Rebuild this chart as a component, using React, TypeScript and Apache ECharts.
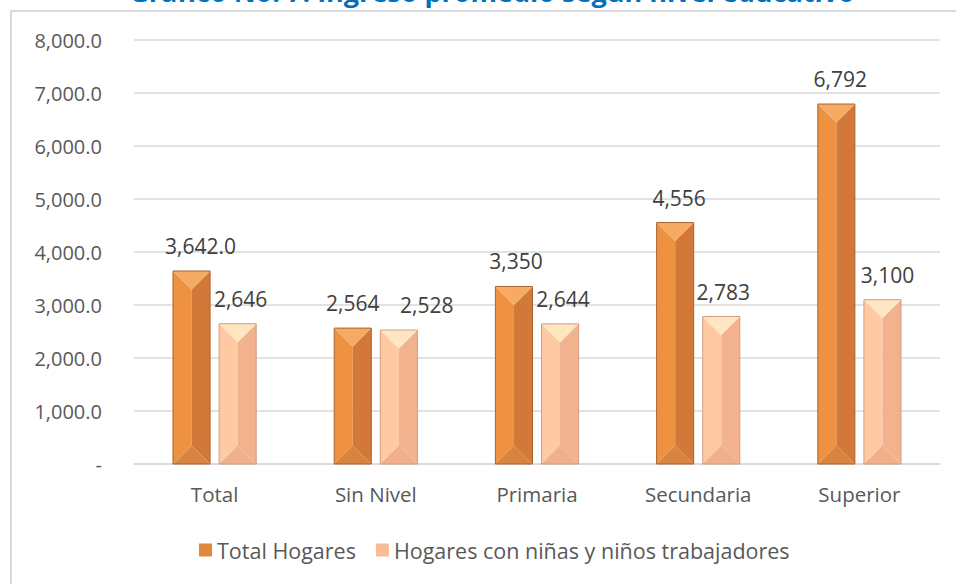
import React, { useEffect, useRef } from "react";
import * as echarts from "echarts";

const titleText = "Gráfico No. 7: Ingreso promedio según nivel educativo";
const categories = ["Total", "Sin Nivel", "Primaria", "Secundaria", "Superior"];
const seriesNames = ["Total Hogares", "Hogares con niñas y niños trabajadores"];
const totalHogares = [3642, 2564, 3350, 4556, 6792];
const hogaresNinos = [2646, 2528, 2644, 2783, 3100];
const totalDecimals = [1, 0, 0, 0, 0];
const ninosDecimals = [0, 0, 0, 0, 0];
const yTicks = [0, 1000, 2000, 3000, 4000, 5000, 6000, 7000, 8000];

// label nudges (layout styling, px)
const labelNudge = [
  [9, 0, 2, 4, 4],
  [3, 28, 3, 2, 5],
];

const palettes = [
  { left: "#EE9242", right: "#D2793A", top: "#F6AA62", bottom: "#D8833F", border: "#A9622E", legend: "#E0883E" },
  { left: "#FFC9A3", right: "#F2B28D", top: "#FFE6C2", bottom: "#EFB08B", border: "#D49C80", legend: "#F7BD97" },
];

function fmt(v: number, d: number) {
  return v.toLocaleString("en-US", { minimumFractionDigits: d, maximumFractionDigits: d });
}

function makeRender(seriesIdx: number, decimals: number[]) {
  const pal = palettes[seriesIdx];
  return (params: any, api: any) => {
    const cat = api.value(0);
    const val = api.value(1);
    const base = api.coord([cat, 0]);
    const topPt = api.coord([cat, val]);
    const band = api.size([1, 0])[0];
    const w = band * 0.23;
    const gap = band * 0.056;
    const cx = base[0] + (seriesIdx === 0 ? -(w / 2 + gap / 2) : w / 2 + gap / 2);
    const x0 = cx - w / 2;
    const x1 = cx + w / 2;
    const yT = topPt[1];
    const yB = base[1];
    const d = Math.min(w / 2, (yB - yT) / 2);
    return {
      type: "group",
      children: [
        { type: "polygon", shape: { points: [[x0, yT], [cx, yT + d], [cx, yB - d], [x0, yB]] }, style: { fill: pal.left } },
        { type: "polygon", shape: { points: [[x1, yT], [cx, yT + d], [cx, yB - d], [x1, yB]] }, style: { fill: pal.right } },
        { type: "polygon", shape: { points: [[x0, yT], [x1, yT], [cx, yT + d]] }, style: { fill: pal.top } },
        { type: "polygon", shape: { points: [[x0, yB], [x1, yB], [cx, yB - d]] }, style: { fill: pal.bottom } },
        { type: "rect", shape: { x: x0, y: yT, width: w, height: yB - yT }, style: { fill: "none", stroke: pal.border, lineWidth: 1 } },
        {
          type: "text",
          x: cx + labelNudge[seriesIdx][cat],
          y: yT - 25,
          style: {
            text: fmt(val, decimals[cat]),
            fill: "#404040",
            font: "21px 'Open Sans'",
            align: "center",
            verticalAlign: "middle",
          },
        },
      ],
    };
  };
}

export default function App() {
  const ref = useRef<HTMLDivElement>(null);
  useEffect(() => {
    if (!ref.current) return;
    const chart = echarts.init(ref.current, null, { renderer: "svg" });
    chart.setOption({
      animation: false,
      backgroundColor: "#ffffff",
      textStyle: { fontFamily: "'Open Sans'" },
      graphic: [
        {
          type: "rect",
          shape: { x: 11, y: 11, width: 1000, height: 700 },
          style: { fill: "none", stroke: "#D9D9D9", lineWidth: 2 },
          silent: true,
        },
        {
          type: "text",
          x: 492,
          y: -9,
          style: {
            text: titleText,
            fill: "#0070C0",
            font: "bold 27px 'Open Sans'",
            align: "center",
            verticalAlign: "middle",
          },
        },
      ],
      grid: { left: 134, right: 16, top: 40, bottom: 120 },
      legend: {
        left: 194,
        top: 534,
        itemWidth: 13,
        itemHeight: 13,
        itemGap: 20,
        icon: "rect",
        textStyle: { color: "#595959", fontSize: 21.5, fontFamily: "'Open Sans'" },
        data: seriesNames,
      },
      xAxis: {
        type: "category",
        data: categories,
        axisLine: { show: true, lineStyle: { color: "#D9D9D9", width: 1.5 } },
        axisTick: { show: false },
        axisLabel: { color: "#595959", fontSize: 20.5, margin: 19, fontFamily: "'Open Sans'" },
      },
      yAxis: {
        type: "value",
        min: yTicks[0],
        max: yTicks[yTicks.length - 1],
        interval: 1000,
        axisLine: { show: false },
        axisTick: { show: false },
        splitLine: { lineStyle: { color: "#D9D9D9", width: 1.5 } },
        axisLabel: {
          color: "#595959",
          fontSize: 20,
          margin: 32,
          fontFamily: "'Open Sans'",
          formatter: (v: number) => (v === 0 ? "-" : fmt(v, 1)),
        },
      },
      series: [
        {
          name: seriesNames[0],
          type: "custom",
          itemStyle: { color: palettes[0].legend },
          renderItem: makeRender(0, totalDecimals),
          encode: { x: 0, y: 1 },
          data: totalHogares.map((v, i) => [i, v]),
        },
        {
          name: seriesNames[1],
          type: "custom",
          itemStyle: { color: palettes[1].legend },
          renderItem: makeRender(1, ninosDecimals),
          encode: { x: 0, y: 1 },
          data: hogaresNinos.map((v, i) => [i, v]),
        },
      ],
    });
    return () => chart.dispose();
  }, []);
  return <div ref={ref} style={{ position: "absolute", left: 0, top: 0, width: 956, height: 584 }} />;
}
